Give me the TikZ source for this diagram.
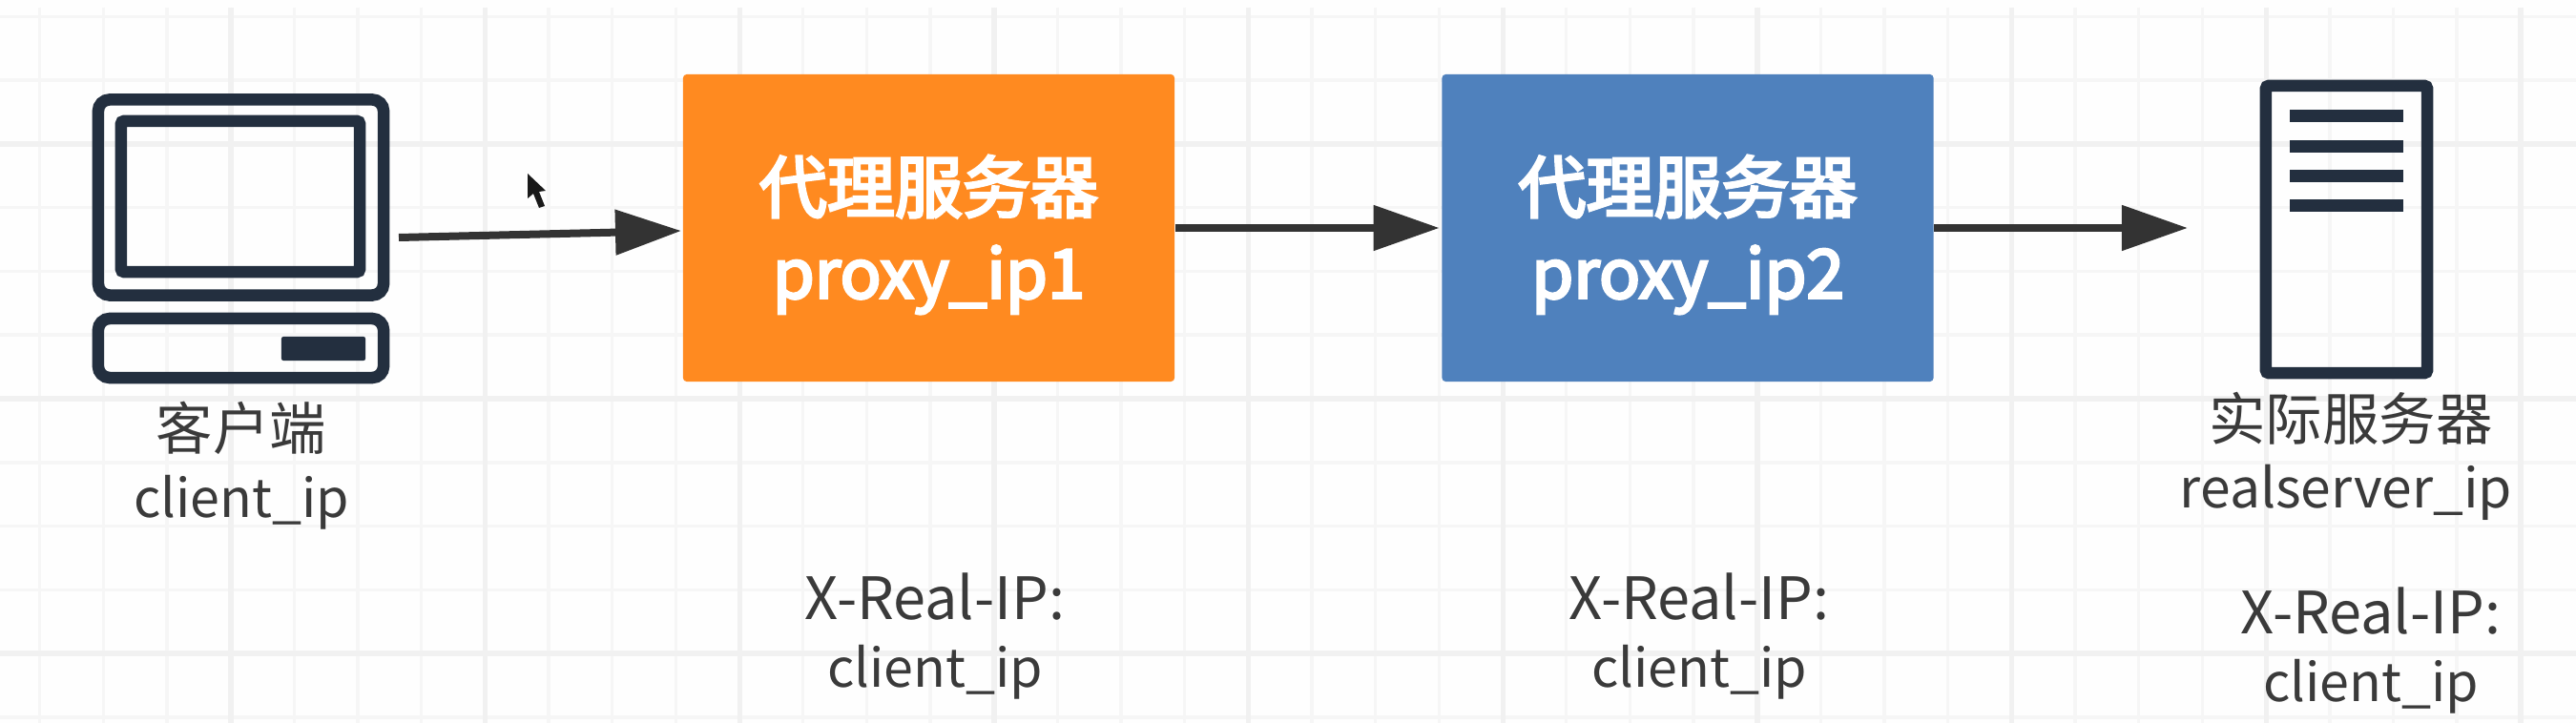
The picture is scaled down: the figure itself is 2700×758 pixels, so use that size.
\documentclass[tikz,border=0pt]{standalone}
\usepackage{fontspec}
\setmainfont{Noto Sans CJK SC}
\newfontfamily\semibf[FakeBold=4]{Noto Sans CJK SC}
\usetikzlibrary{arrows.meta}
\definecolor{iconc}{HTML}{232F3F}
\definecolor{arrowc}{HTML}{333333}
\definecolor{txt}{HTML}{3A3A3A}
\definecolor{orangebox}{HTML}{FF8A20}
\definecolor{bluebox}{HTML}{4F81BD}
\definecolor{gridmin}{HTML}{F6F6F6}
\definecolor{gridmaj}{HTML}{F1F1F1}
\newcommand{\zhline}{\fontsize{16.9}{20.5}\selectfont}
\newcommand{\ipline}{\fontsize{15.8}{20.5}\selectfont}
\newcommand{\hdrline}{\fontsize{17.4}{20.5}\selectfont}
\tikzset{
  iconbox/.style={draw=iconc,line width=0.125cm,rounded corners=0.12cm,inner sep=0pt},
  iconsharp/.style={draw=iconc,line width=0.125cm,rounded corners=0.03cm,inner sep=0pt},
  iconbar/.style={fill=iconc,inner sep=0pt,rounded corners=0.02cm},
  proxybox/.style={minimum width=5.15cm,minimum height=3.22cm,rounded corners=0.04cm,inner sep=0pt},
  proxytext/.style={text=white,align=center,inner sep=0pt,font=\semibf\fontsize{20.2}{25.6}\selectfont},
  lbl/.style={text=txt,align=center,inner sep=0pt,font=\fontsize{16.2}{20.2}\selectfont},
  flow/.style={draw=arrowc,line width=0.08cm,-{Triangle[length=0.69cm,width=0.46cm]}}
}
\begin{document}
\begin{tikzpicture}[x=0.01cm,y=-0.01cm]
\useasboundingbox (0,0) rectangle (2700,758);
\fill[white!99.5!black] (0,0) rectangle (2700,758);
% grid
\foreach \k in {0,...,40}{
  \draw[gridmin,line width=0.035cm] ({41.6+66.67*\k},8) -- ({41.6+66.67*\k},758);
}
\foreach \k in {0,...,11}{
  \draw[gridmin,line width=0.035cm] (0,{17.5+66.75*\k}) -- (2700,{17.5+66.75*\k});
}
\foreach \k in {0,...,9}{
  \draw[gridmaj,line width=0.055cm] ({242+266.67*\k},8) -- ({242+266.67*\k},758);
}
\foreach \k in {0,...,2}{
  \draw[gridmaj,line width=0.055cm] (0,{151+266.9*\k}) -- (2700,{151+266.9*\k});
}
% client icon
\node[iconbox,minimum width=2.99cm,minimum height=2.05cm] (screenouter) at (252.5,207) {};
\node[iconsharp,minimum width=2.50cm,minimum height=1.58cm] (screeninner) at (252,206) {};
\node[iconbox,minimum width=2.99cm,minimum height=0.62cm] (base) at (252.5,365) {};
\node[iconbar,minimum width=0.88cm,minimum height=0.25cm] (button) at (339,365.5) {};
\node[lbl] (clientlbl) at (253,488) {{\zhline 客户端}\\{\ipline client\_ip}};
% proxies
\node[proxybox,fill=orangebox] (p1) at (973.5,239) {};
\node[proxybox,fill=bluebox] (p2) at (1769,239) {};
\node[proxytext] (p1text) at ([yshift=-0.07cm]p1.center) {代理服务器\\proxy\_ip1};
\node[proxytext] (p2text) at ([yshift=-0.07cm]p2.center) {代理服务器\\proxy\_ip2};
% server icon
\node[iconsharp,minimum width=1.69cm,minimum height=3.01cm] (server) at (2459.5,240.5) {};
\foreach \yy in {122,153.5,185,215.5}{
  \fill[iconc] (2400,\yy-6.5) rectangle (2519,\yy+6.5);
}
\node[lbl] (serverlbl) at (2459,478) {{\zhline\hspace*{0.1cm}实际服务器}\\realserver\_ip};
% header labels
\node[lbl] (h1) at (980,667) {{\hdrline X-Real-IP:}\\{\ipline client\_ip}};
\node[lbl] (h2) at (1781,667) {{\hdrline X-Real-IP:}\\{\ipline client\_ip}};
\node[lbl] (h3) at (2485,682) {{\hdrline X-Real-IP:}\\{\ipline client\_ip}};
% connectors
\coordinate (c1) at (418,249);
\coordinate (c2) at (714,242);
\coordinate (c3) at (2293,239);
\draw[flow] (c1) -- (c2);
\draw[flow,shorten >=0.02cm] (p1.east) -- (p2.west);
\draw[flow] (p2.east) -- (c3);
% mouse cursor
\fill[black!90] (553,182) -- (553,208) -- (559,203) -- (565,218) -- (571,216) -- (565,201) -- (572,200) -- cycle;
\end{tikzpicture}
\end{document}
